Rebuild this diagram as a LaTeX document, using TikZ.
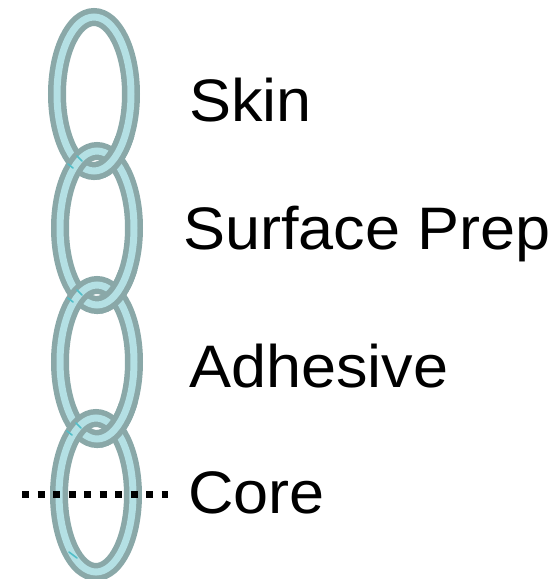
\documentclass[tikz,border=0pt]{standalone}
\usepackage{fontspec}
\setmainfont{Liberation Sans}
\usepackage{graphicx}
\definecolor{linkedge}{RGB}{138,168,168}
\definecolor{linkfill}{RGB}{180,224,228}
\definecolor{linkglint}{RGB}{80,190,200}

\tikzset{
  linkouter/.style={draw=linkedge, line width=18pt},
  linkinner/.style={draw=linkfill, line width=7pt},
  glint/.style={draw=linkglint, line width=1.6pt, line cap=round},
  layertext/.style={inner sep=0pt, anchor=base west, font=\fontsize{60}{66}\selectfont},
  dotline/.style={draw=black, line width=7pt, dash pattern=on 7pt off 8.5pt},
}

% one oval chain link centred at (#1,#2)
\newcommand\drawlink[2]{%
  \draw[linkouter] (#1,#2) ellipse [x radius=37pt, y radius=77pt];
  \draw[linkinner] (#1,#2) ellipse [x radius=37pt, y radius=77pt];
}
% small teal sheen where a link crosses the one above it, centred at (#1,#2)
\newcommand\drawglint[2]{%
  \draw[glint] ([shift={(-29,-64)}]#1,#2) -- ([shift={(-24,-60)}]#1,#2);
  \draw[glint] ([shift={(-20,-72)}]#1,#2) -- ([shift={(-15,-67)}]#1,#2);
}

\begin{document}
\begin{tikzpicture}[x=1pt, y=-1pt]
\useasboundingbox (0,0) rectangle (559,579);

% the four links, top to bottom
\drawlink{94}{94}
\drawlink{97}{228}
\drawlink{97}{362}
\drawlink{96}{495}

% right-hand crossings: the upper link passes over the lower one
\begin{scope}
  \clip (95,136) rectangle (160,190);
  \drawlink{94}{94}
\end{scope}
\begin{scope}
  \clip (97,270) rectangle (160,324);
  \drawlink{97}{228}
\end{scope}
\begin{scope}
  \clip (97,403) rectangle (160,458);
  \drawlink{97}{362}
\end{scope}

% sheen on the left-hand crossings
\drawglint{97}{228}
\drawglint{97}{362}
\drawglint{96}{495}
\draw[glint] (69,552) -- (77,558);

% labels
\node[layertext] (skin)    at (189,121) {\scalebox{1.05}[1]{Skin}};
\node[layertext] (surface) at (183,249) {\scalebox{1.05}[1]{Surface Prep}};
\node[layertext] (adhes)   at (189,387) {\scalebox{1.05}[1]{Adhesive}};
\node[layertext] (core)    at (188,513) {\scalebox{1.05}[1]{Core}};

% dotted marker line through the bottom link
\coordinate (dotL) at (22,494);
\coordinate (dotR) at (168,494);
\draw[dotline] (dotL) -- (dotR);
\end{tikzpicture}
\end{document}
